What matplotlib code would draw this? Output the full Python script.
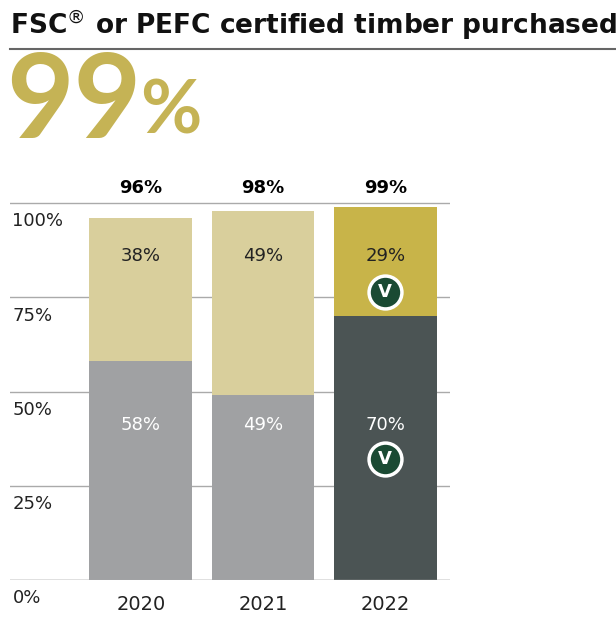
import matplotlib.pyplot as plt

# Datos
years = ['2020', '2021', '2022']
bottom_vals = [58, 49, 70]
top_vals = [38, 49, 29]
totals = ['96%', '98%', '99%']
y_ticks = [0, 25, 50, 75, 100]

bottom_colors = ['#a0a1a3', '#a0a1a3', '#4b5454']
top_colors = ['#d9cf9c', '#d9cf9c', '#c8b449']

W, H = 616, 624
fig = plt.figure(figsize=(W / 100, H / 100), dpi=100)
fig.patch.set_facecolor('white')

# Titulo y cifra grande
fig.text(10 / W, 1 - 25 / H, 'FSC$^{®}$ or PEFC certified timber purchased in 2022',
         fontsize=19, fontweight='bold', va='center', ha='left', color='#111111',
         family=['Liberation Sans Narrow', 'DejaVu Sans'])
fig.add_artist(plt.Line2D([10 / W, 1], [1 - 49 / H, 1 - 49 / H], color='#666666', lw=1.5))
fig.text(6 / W, 1 - 104 / H, '99', fontsize=84, fontweight='bold', color='#c5b355',
         va='center', ha='left', family='Lato')
fig.text(140 / W, 1 - 112 / H, '%', fontsize=54, fontweight='bold', color='#c5b355',
         va='center', ha='left', family='Lato')

# Ejes
ax_top, ax_bot = 190, 580
ax = fig.add_axes([10 / W, 1 - ax_bot / H, 440 / W, (ax_bot - ax_top) / H])
ymax = 100 * (ax_bot - ax_top) / (ax_bot - 203)
ax.set_ylim(0, ymax)
ax.set_xlim(-1.07, 2.53)
for s in ax.spines.values():
    s.set_visible(False)
ax.set_xticks([])
ax.set_yticks([])

for t in y_ticks:
    ax.axhline(t, color='#aaaaaa', lw=1, zorder=0)
    ax.text(-1.05, t - 2.5, f'{t}%', fontsize=13, color='#222222', va='top', ha='left')

x = range(len(years))
ax.bar(x, bottom_vals, width=0.84, color=bottom_colors, zorder=2)
ax.bar(x, top_vals, width=0.84, bottom=bottom_vals, color=top_colors, zorder=2)
ax.axhline(0, color='#aaaaaa', lw=1, zorder=3)

for i in x:
    b, t = bottom_vals[i], top_vals[i]
    ax.text(i, 104, totals[i], fontsize=13, fontweight='bold', ha='center', va='center')
    ax.text(i, -6.5, years[i], fontsize=14, ha='center', va='center', color='#222222',
            clip_on=False)
    ax.text(i, 86, f'{t}%', fontsize=13, ha='center', va='center', color='#222222')
    ax.text(i, 41, f'{b}%', fontsize=13, ha='center', va='center', color='white')
    if i == 2:
        for yy in (76.5, 32):
            ax.scatter([i], [yy], s=560, color='#1a4a33', edgecolor='white', lw=2.5, zorder=4)
            ax.text(i, yy, 'V', fontsize=13, fontweight='bold', color='white',
                    ha='center', va='center', zorder=5)

fig.savefig('out.png', dpi=100)
